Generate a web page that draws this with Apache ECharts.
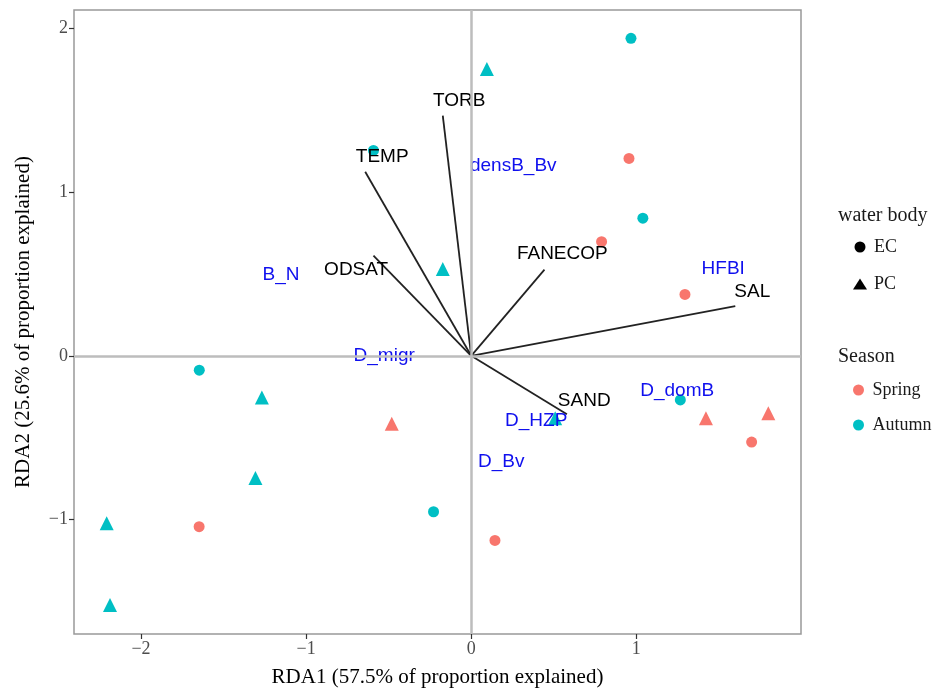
<!DOCTYPE html>
<html>
<head>
<meta charset="utf-8">
<script src="https://cdn.jsdelivr.net/npm/echarts@6/dist/echarts.min.js"></script>
<style>html,body{margin:0;padding:0;background:#fff}#chart{width:938px;height:693px}</style>
</head>
<body>
<div id="chart"></div>
<script>
// site scores, split by season and water body
var springEC = [[0.956, 1.206], [0.790, 0.697], [1.295, 0.375], [1.699, -0.527], [-1.648, -1.044], [0.144, -1.128]];
var springPC = [[-0.481, -0.416], [1.422, -0.381], [1.800, -0.351]];
var autumnEC = [[-0.592, 1.255], [0.968, 1.940], [1.040, 0.841], [-1.647, -0.088], [-0.228, -0.953], [1.267, -0.270]];
var autumnPC = [[0.095, 1.752], [-0.172, 0.531], [-1.268, -0.255], [-1.307, -0.746], [-2.208, -1.024], [-2.188, -1.523], [0.509, -0.381]];

// environmental vectors
var envNames = ['TORB', 'TEMP', 'ODSAT', 'FANECOP', 'SAL', 'SAND'];
var envArrows = [[-0.172, 1.468], [-0.642, 1.125], [-0.592, 0.612], [0.444, 0.527], [1.600, 0.304], [0.580, -0.357]];
var envLabelPos = [[-0.073, 1.559], [-0.539, 1.219], [-0.697, 0.525], [0.552, 0.622], [1.703, 0.391], [0.685, -0.272]];

// response variables (text only)
var spNames = ['densB_Bv', 'B_N', 'D_migr', 'HFBI', 'D_domB', 'D_HZP', 'D_Bv'];
var spPos = [[0.255, 1.164], [-1.152, 0.495], [-0.527, 0.002], [1.527, 0.531], [1.248, -0.211], [0.394, -0.400], [0.182, -0.649]];

var xTicks = [-2, -1, 0, 1];
var yTicks = [-1, 0, 1, 2];

var RED = '#F8766D', TEAL = '#00BFC4';
var serif = '"Liberation Serif", "Times New Roman", serif';
var sans = '"Liberation Sans", Arial, sans-serif';

function withShape(list, shape) {
    return list.map(function (p) {
        return { value: p, symbol: shape, symbolSize: shape == 'triangle' ? 14 : 11 };
    });
}
function minus(v) { return String(v).replace('-', '\u2212'); }

var chart = echarts.init(document.getElementById('chart'));

var series = [
    {
        name: 'Spring', type: 'scatter', z: 2,
        itemStyle: { color: RED, opacity: 1 },
        data: withShape(springEC, 'circle').concat(withShape(springPC, 'triangle')),
        markLine: {
            silent: true, symbol: 'none', label: { show: false },
            lineStyle: { color: '#bdbdbd', width: 2.5, type: 'solid', opacity: 1 },
            data: [{ xAxis: 0 }, { yAxis: 0 }]
        }
    },
    {
        name: 'Autumn', type: 'scatter', z: 2,
        itemStyle: { color: TEAL, opacity: 1 },
        data: withShape(autumnEC, 'circle').concat(withShape(autumnPC, 'triangle'))
    },
    { name: 'EC', type: 'scatter', symbol: 'circle', itemStyle: { color: '#000', opacity: 1 }, data: [] },
    { name: 'PC', type: 'scatter', symbol: 'triangle', itemStyle: { color: '#000', opacity: 1 }, data: [] }
];

envArrows.forEach(function (p, i) {
    series.push({
        type: 'line', z: 3, silent: true, symbol: 'none',
        lineStyle: { color: '#222', width: 1.8 },
        data: [[0, 0], p]
    });
});

series.push({
    type: 'scatter', z: 4, silent: true, symbolSize: 0,
    itemStyle: { opacity: 1 },
    label: { show: true, position: 'inside', formatter: function (d) { return d.name; },
        color: '#000', fontFamily: sans, fontSize: 19 },
    data: envNames.map(function (n, i) { return { name: n, value: envLabelPos[i] }; })
});
series.push({
    type: 'scatter', z: 4, silent: true, symbolSize: 0,
    itemStyle: { opacity: 1 },
    label: { show: true, position: 'inside', formatter: function (d) { return d.name; },
        color: '#1010ee', fontFamily: sans, fontSize: 19 },
    data: spNames.map(function (n, i) { return { name: n, value: spPos[i] }; })
});

var axisCommon = {
    type: 'value',
    nameLocation: 'middle',
    nameTextStyle: { fontFamily: serif, fontSize: 21, color: '#000' },
    axisLine: { show: false, onZero: false },
    splitLine: { show: false },
    axisTick: { show: true, length: 5, lineStyle: { color: '#333', width: 1.2 } },
    axisLabel: { fontFamily: serif, fontSize: 18, color: '#4d4d4d', margin: 6, formatter: minus }
};

var legendText = { fontFamily: serif, fontSize: 18, color: '#1a1a1a', padding: [0, 0, 0, 2] };

var option = {
    animation: false,
    backgroundColor: '#fff',
    title: [
        { text: 'water body', left: 833, top: 201, textStyle: { fontFamily: serif, fontSize: 20, fontWeight: 'normal', color: '#1a1a1a' } },
        { text: 'Season', left: 833, top: 342, textStyle: { fontFamily: serif, fontSize: 20, fontWeight: 'normal', color: '#1a1a1a' } }
    ],
    legend: [
        {
            orient: 'vertical', left: 848, top: 233, itemWidth: 14, itemHeight: 11, itemGap: 19,
            textStyle: legendText,
            data: [{ name: 'EC', icon: 'circle' }, { name: 'PC', icon: 'triangle' }]
        },
        {
            orient: 'vertical', left: 848, top: 376, itemWidth: 14, itemHeight: 11, itemGap: 17,
            textStyle: legendText,
            data: [{ name: 'Spring', icon: 'circle' }, { name: 'Autumn', icon: 'circle' }]
        }
    ],
    grid: { left: 74, top: 10, right: 137, bottom: 54, show: true, borderColor: '#999', borderWidth: 1.5 },
    xAxis: Object.assign({}, axisCommon, {
        min: -2.406, max: 1.998,
        name: 'RDA1 (57.5% of proportion explained)', nameGap: 33,
        axisTick: Object.assign({}, axisCommon.axisTick, { customValues: xTicks }),
        axisLabel: Object.assign({}, axisCommon.axisLabel, { customValues: xTicks })
    }),
    yAxis: Object.assign({}, axisCommon, {
        min: -1.70, max: 2.113,
        name: 'RDA2 (25.6% of proportion explained)', nameGap: 40,
        axisTick: Object.assign({}, axisCommon.axisTick, { customValues: yTicks }),
        axisLabel: Object.assign({}, axisCommon.axisLabel, { customValues: yTicks })
    }),
    series: series
};
chart.setOption(option);

window.onresize = function () {
    chart.resize();
};
</script>
</body>
</html>
